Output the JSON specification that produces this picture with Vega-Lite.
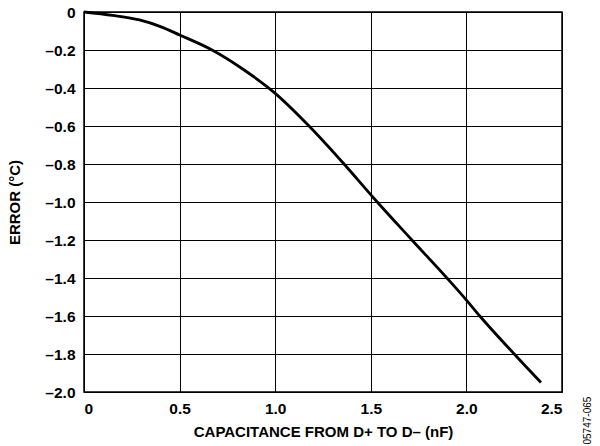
{
  "$schema": "https://vega.github.io/schema/vega-lite/v6.json",
  "width": 478,
  "height": 380,
  "autosize": "none",
  "padding": {"left": 84, "top": 12, "right": 38, "bottom": 54},
  "background": "white",
  "config": {
    "font": "Liberation Sans",
    "view": {"stroke": "black", "strokeWidth": 1.5},
    "axis": {
      "labelFont": "Liberation Sans",
      "labelFontWeight": "bold",
      "labelFontSize": 15.5,
      "labelColor": "black",
      "titleFont": "Liberation Sans",
      "titleFontWeight": "bold",
      "titleFontSize": 15,
      "titleColor": "black",
      "gridColor": "black",
      "gridWidth": 1,
      "gridOpacity": 1,
      "ticks": false,
      "domain": false
    }
  },
  "title": {
    "text": "05747-065",
    "orient": "right",
    "anchor": "end",
    "angle": -90,
    "align": "left",
    "baseline": "middle",
    "fontSize": 10,
    "fontWeight": "normal",
    "font": "Liberation Sans",
    "color": "black",
    "offset": 16,
    "dx": -5
  },
  "data": {
    "values": [
      {"c": 0.0, "e": 0.0},
      {"c": 0.15, "e": -0.018},
      {"c": 0.29, "e": -0.042},
      {"c": 0.4, "e": -0.077},
      {"c": 0.5, "e": -0.121},
      {"c": 0.67, "e": -0.2},
      {"c": 0.83, "e": -0.3},
      {"c": 1.0, "e": -0.428},
      {"c": 1.177, "e": -0.6},
      {"c": 1.36, "e": -0.8},
      {"c": 1.516, "e": -0.98},
      {"c": 1.715, "e": -1.2},
      {"c": 1.898, "e": -1.4},
      {"c": 2.0, "e": -1.516},
      {"c": 2.07, "e": -1.6},
      {"c": 2.25, "e": -1.8},
      {"c": 2.39, "e": -1.95}
    ]
  },
  "mark": {"type": "line", "color": "black", "strokeWidth": 2.8, "interpolate": "monotone"},
  "encoding": {
    "x": {
      "field": "c",
      "type": "quantitative",
      "scale": {"domain": [0, 2.5], "nice": false},
      "axis": {
        "values": [0, 0.5, 1.0, 1.5, 2.0, 2.5],
        "labelExpr": "datum.value == 0 ? '0' : format(datum.value, '.1f')",
        "labelPadding": 9,
        "title": "CAPACITANCE FROM D+ TO D– (nF)",
        "titlePadding": 8
      }
    },
    "y": {
      "field": "e",
      "type": "quantitative",
      "scale": {"domain": [-2.0, 0], "nice": false},
      "axis": {
        "values": [0, -0.2, -0.4, -0.6, -0.8, -1.0, -1.2, -1.4, -1.6, -1.8, -2.0],
        "labelExpr": "datum.value == 0 ? '0' : '–' + format(-datum.value, '.1f')",
        "labelPadding": 9,
        "title": "ERROR (°C)",
        "titlePadding": 22
      }
    }
  }
}
